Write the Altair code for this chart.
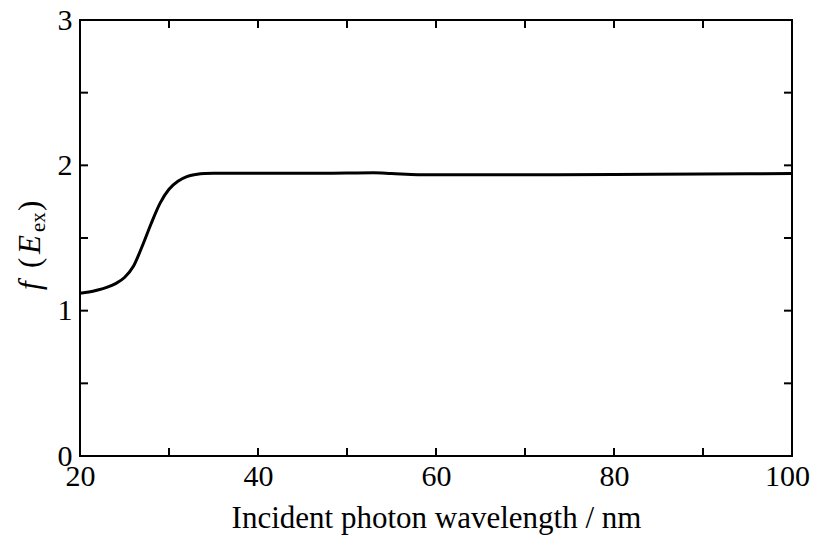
import altair as alt
import pandas as pd

# curve data
wavelength = [20, 21, 22, 23, 24, 25, 26, 27, 28, 29, 30, 31, 32, 33, 34, 35,
              40, 45, 50, 53, 55, 58, 60, 70, 80, 90, 100]
f_value = [1.12, 1.128, 1.142, 1.16, 1.186, 1.228, 1.305, 1.445, 1.60, 1.74, 1.835,
           1.89, 1.922, 1.937, 1.944, 1.945, 1.945, 1.945, 1.947, 1.949, 1.944,
           1.936, 1.935, 1.935, 1.937, 1.94, 1.943]

x_major = [20, 40, 60, 80, 100]
x_minor = [30, 50, 70, 90]
y_major = [0, 1, 2, 3]
y_minor = [0.5, 1.5, 2.5]

W, H = 712, 436
TICK = 8
FONT = "Liberation Serif"

df = pd.DataFrame({"x": wavelength, "y": f_value})
xt = pd.DataFrame({"v": x_major + x_minor})
yt = pd.DataFrame({"v": y_major + y_minor})

xs = alt.Scale(domain=[20, 100], nice=False, zero=False)
ys = alt.Scale(domain=[0, 3], nice=False, zero=False)

line = alt.Chart(df).mark_line(color="black", strokeWidth=3, interpolate="monotone").encode(
    x=alt.X("x:Q", scale=xs, axis=alt.Axis(
        values=x_major, ticks=False, domain=False, grid=False, labelFont=FONT,
        labelFontSize=30, labelColor="black", labelPadding=5, labelFlush=False,
        labelOverlap=False, labelBound=False,
        labelOffset={"expr": "datum.value == 100 ? -5 : 0"},
        title="Incident photon wavelength / nm", titleFont=FONT, titleFontSize=31,
        titleFontWeight="normal", titleColor="black", titlePadding=12)),
    y=alt.Y("y:Q", scale=ys, axis=alt.Axis(
        values=y_major, ticks=False, domain=False, grid=False, labelFont=FONT,
        labelFontSize=30, labelColor="black", labelPadding=8, labelFlush=False,
        labelOverlap=False, title=None, format="d")),
)

bt = alt.Chart(xt).mark_rule(color="black", strokeWidth=2).encode(
    x=alt.X("v:Q", scale=xs), y=alt.value(H), y2=alt.value(H - TICK))
tt = alt.Chart(xt).mark_rule(color="black", strokeWidth=2).encode(
    x=alt.X("v:Q", scale=xs), y=alt.value(0), y2=alt.value(TICK))
lt = alt.Chart(yt).mark_rule(color="black", strokeWidth=2).encode(
    y=alt.Y("v:Q", scale=ys), x=alt.value(0), x2=alt.value(TICK))
rt = alt.Chart(yt).mark_rule(color="black", strokeWidth=2).encode(
    y=alt.Y("v:Q", scale=ys), x=alt.value(W), x2=alt.value(W - TICK))

# y title pieces: f (E_ex)
pieces = pd.DataFrame({
    "t": ["f", "(", "E", "ex", ")"],
    "y": [270, 248, 234, 212, 191],
    "x": [-40, -40, -40, -35, -40],
    "style": ["italic", "normal", "italic", "normal", "normal"],
    "size": [31, 31, 31, 21, 31],
})
def piece(i):
    r = pieces.iloc[i]
    return alt.Chart(pieces.iloc[[i]]).mark_text(
        angle=270, align="left", baseline="alphabetic", font=FONT,
        fontSize=int(r["size"]), fontStyle=r["style"], color="black").encode(
        text="t:N", x=alt.value(float(r["x"])), y=alt.value(float(r["y"])))

title_layers = [piece(i) for i in range(len(pieces))]

chart = alt.layer(line, bt, tt, lt, rt, *title_layers).properties(
    width=W, height=H, background="white",
    autosize=alt.AutoSizeParams(type="none"),
    padding={"left": 72, "top": 12, "right": 20, "bottom": 81},
).configure_view(stroke="black", strokeWidth=2)

chart.save("out.html", embed_options={"renderer": "svg", "actions": False})
